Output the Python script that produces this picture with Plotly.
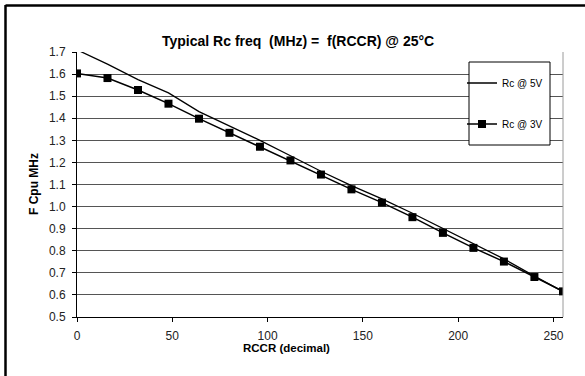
import plotly.graph_objects as go

# ---- data ----
rccr = [0, 16, 32, 48, 64, 80, 96, 112, 128, 144, 160, 176, 192, 208, 224, 240, 255]
rc_5v = [1.71, 1.645, 1.575, 1.515, 1.43, 1.365, 1.30, 1.23, 1.16, 1.095, 1.035, 0.97, 0.90, 0.833, 0.763, 0.685, 0.615]
rc_3v = [1.603, 1.582, 1.528, 1.466, 1.398, 1.334, 1.271, 1.209, 1.145, 1.078, 1.018, 0.952, 0.881, 0.813, 0.751, 0.681, 0.616]
y_ticks = [0.5, 0.6, 0.7, 0.8, 0.9, 1.0, 1.1, 1.2, 1.3, 1.4, 1.5, 1.6, 1.7]
x_ticks = [0, 50, 100, 150, 200, 250]

W, H = 585, 376
ML, MR, MT, MB = 77, 22, 52, 59
PW, PH = W - ML - MR, H - MT - MB

def px_x(p):
    return (p - ML) / PW

def px_y(p):
    return (H - MB - p) / PH

FONT = "Liberation Sans, Arial, sans-serif"

fig = go.Figure()
fig.add_trace(go.Scatter(
    x=rccr, y=rc_5v, mode="lines", name="Rc @ 5V",
    line=dict(color="black", width=1.3), legendgroup="a"))
fig.add_trace(go.Scatter(
    x=rccr, y=rc_3v, mode="lines+markers", name="Rc @ 3V",
    line=dict(color="black", width=1.5),
    marker=dict(symbol="square", size=8, color="black"), legendgroup="b"))

shapes = [
    # outer frame (top and left)
    dict(type="line", xref="paper", yref="paper", x0=px_x(5.5), x1=1.2,
         y0=px_y(5.5), y1=px_y(5.5), line=dict(color="black", width=2.5)),
    dict(type="line", xref="paper", yref="paper", x0=px_x(5.5), x1=px_x(5.5),
         y0=px_y(5), y1=-0.3, line=dict(color="black", width=2.5)),
    # right plot border
    dict(type="line", xref="paper", yref="paper", x0=1, x1=1, y0=0, y1=1,
         line=dict(color="#9a9a9a", width=1)),
    # legend box
    dict(type="rect", xref="paper", yref="paper", layer="above",
         x0=px_x(469), x1=px_x(550), y0=px_y(145), y1=px_y(62),
         fillcolor="white", line=dict(color="black", width=1)),
]

annotations = [
    dict(text="<b>Typical Rc freq \u00a0(MHz) = \u00a0f(RCCR) @ 25°C</b>",
         xref="paper", yref="paper", x=px_x(298), y=px_y(41),
         xanchor="center", yanchor="middle", showarrow=False,
         font=dict(family=FONT, size=14, color="black")),
    dict(text="<b>F Cpu MHz</b>", textangle=-90,
         xref="paper", yref="paper", x=px_x(34), y=px_y(184),
         xanchor="center", yanchor="middle", showarrow=False,
         font=dict(family=FONT, size=12, color="black")),
    dict(text="<b>RCCR (decimal)</b>",
         xref="paper", yref="paper", x=px_x(286), y=px_y(347.5),
         xanchor="center", yanchor="middle", showarrow=False,
         font=dict(family=FONT, size=11.5, color="black")),
]

fig.update_layout(
    width=W, height=H,
    margin=dict(l=ML, r=MR, t=MT, b=MB, pad=0),
    paper_bgcolor="white", plot_bgcolor="white",
    font=dict(family=FONT, color="#222"),
    showlegend=True,
    legend=dict(
        x=px_x(462), y=px_y(68.5), xanchor="left", yanchor="top",
        bgcolor="rgba(0,0,0,0)", borderwidth=0,
        traceorder="grouped", tracegroupgap=22,
        font=dict(family=FONT, size=10, color="black"),
        itemwidth=30,
    ),
    shapes=shapes,
    annotations=annotations,
    xaxis=dict(
        range=[0, 255], tickmode="array", tickvals=x_ticks,
        ticks="outside", ticklen=4, tickcolor="black",
        ticklabelstandoff=4,
        showline=True, linecolor="black", linewidth=1,
        showgrid=False, zeroline=False,
        tickfont=dict(family=FONT, size=12, color="#222"),
    ),
    yaxis=dict(
        range=[0.5, 1.7], tickmode="array", tickvals=y_ticks,
        ticktext=[f"{v:.1f}" for v in y_ticks],
        ticks="outside", ticklen=4, tickcolor="black",
        ticklabelstandoff=4,
        showline=True, linecolor="black", linewidth=1,
        showgrid=True, gridcolor="#555", gridwidth=1, zeroline=False,
        tickfont=dict(family=FONT, size=12, color="#222"),
    ),
)

fig.write_html("out.html", config={"displayModeBar": False},
               post_script="document.body.style.margin='0';")
